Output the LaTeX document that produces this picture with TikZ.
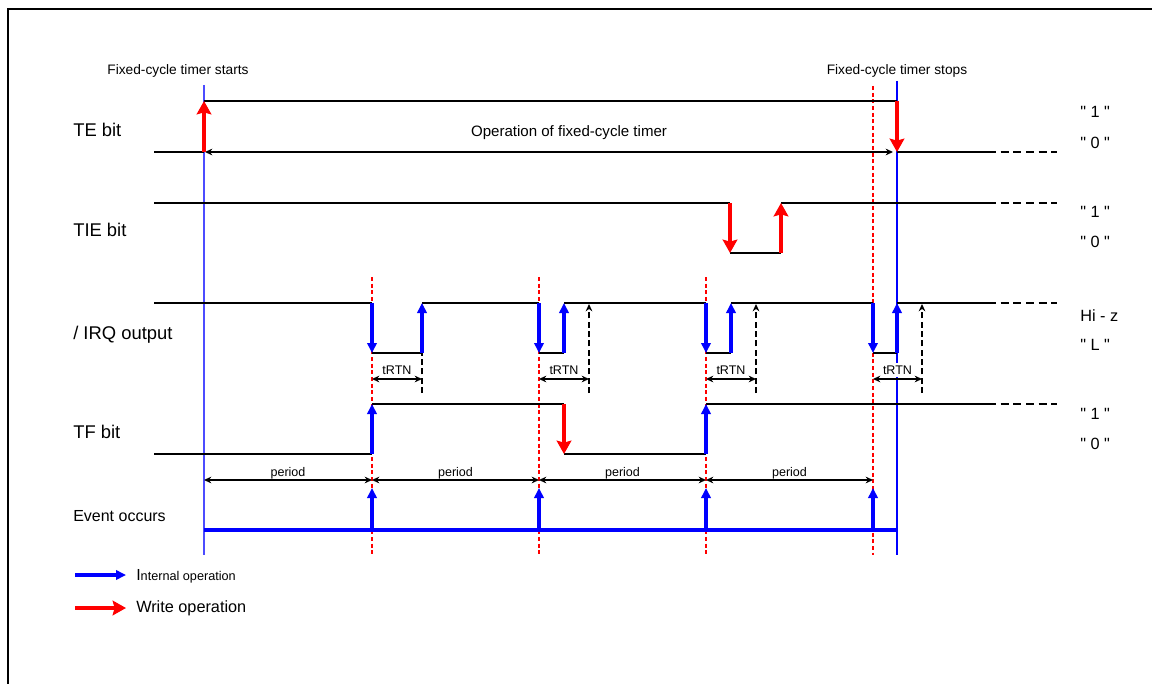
\documentclass[tikz,border=0pt]{standalone}
\usepackage{fontspec}
\setmainfont{Liberation Sans}
\newfontfamily\qf{Liberation Sans}
\usetikzlibrary{arrows.meta}
\newcommand{\qv}[1]{{\qf\char34\ #1\ \char34}}
\begin{document}
\begin{tikzpicture}[x=0.75pt,y=-0.75pt,
  lbl/.style={inner sep=0pt, text height=0.72em, text depth=0pt, anchor=west, font=\fontsize{13.8}{15}\selectfont},
  val/.style={inner sep=0pt, text height=0.72em, text depth=0pt, anchor=west, font=\fontsize{12.2}{14}\selectfont},
  small/.style={inner sep=0pt, text height=0.72em, text depth=0pt, font=\fontsize{10.3}{12}\selectfont},
  tiny/.style={inner sep=0pt, text height=0.72em, text depth=0pt, font=\fontsize{9.4}{11}\selectfont},
  sig/.style={black, line width=1.2pt},
  cont/.style={black, line width=2.2pt, dash pattern=on 6pt off 3.5pt},
  wr/.style={red, line width=3.2pt, -{Stealth[length=10pt,width=11pt,inset=1.5pt]}},
  intop/.style={blue, line width=3pt, -{Triangle[length=7.5pt,width=7pt]}},
  dimarr/.style={black, line width=1.2pt, {Stealth[length=5.5pt,width=5pt]}-{Stealth[length=5.5pt,width=5pt]}},
  rdash/.style={red, line width=1.1pt, dash pattern=on 3pt off 2pt},
  bdash/.style={black, line width=1.5pt, dash pattern=on 4.5pt off 2.5pt, -{Stealth[length=5.5pt,width=5pt]}}
]
\useasboundingbox (0,0) rectangle (1152,684);
% frame
\draw[line width=1.5pt] (8,700) -- (8,9.5) -- (1170,9.5);

% reference verticals
\draw[blue!70!white, line width=0.8pt] (204,85) -- (204,555);
\foreach \x in {372,539,706} \draw[rdash] (\x,277) -- (\x,555);
\draw[rdash] (873,86) -- (873,555);
\draw[blue, line width=0.8pt] (897,81) -- (897,555);

% headers
\node[small] (hs) at (178,70) {Fixed-cycle timer starts};
\node[small] (he) at (897,70) {Fixed-cycle timer stops};

% row labels
\node[lbl] (lte) at (73,132) {TE bit};
\node[lbl] (ltie) at (73,232) {TIE bit};
\node[lbl] (lirq) at (73,335) {/ IRQ output};
\node[lbl] (ltf) at (73,434) {TF bit};
\node[lbl, font=\fontsize{12}{14}\selectfont] (lev) at (73,517) {Event occurs};

% value labels
\node[val] (v1) at (1080,113) {\qv{1}};
\node[val] (v2) at (1080,144) {\qv{0}};
\node[val] (v3) at (1080,213) {\qv{1}};
\node[val] (v4) at (1080,243) {\qv{0}};
\node[val] (v5) at (1080,317) {Hi - z};
\node[val] (v6) at (1080,346) {\qv{L}};
\node[val] (v7) at (1080,415) {\qv{1}};
\node[val] (v8) at (1080,445) {\qv{0}};

% TE bit
\draw[sig] (154,152) -- (204,152);
\draw[sig] (204,101) -- (897,101);
\draw[sig] (897,152) -- (988,152);
\draw[cont] (988,152) -- (1057,152);
\node[small, font=\fontsize{11.3}{13}\selectfont] (op) at (569,132) {Operation of fixed-cycle timer};
\draw[dimarr] (205,152) -- (893,152);
\draw[wr] (204,152) -- (204,101);
\draw[wr] (897,101) -- (897,152);

% TIE bit
\draw[sig] (154,203) -- (730,203);
\draw[sig] (730,253) -- (781,253);
\draw[sig] (781,203) -- (988,203);
\draw[cont] (988,203) -- (1057,203);
\draw[wr] (730,203) -- (730,253);
\draw[wr] (781,253) -- (781,203);

% IRQ output
\draw[sig] (154,303) -- (372,303);
\draw[sig] (372,353) -- (422,353);
\draw[sig] (422,303) -- (539,303);
\draw[sig] (539,353) -- (564,353);
\draw[sig] (564,303) -- (706,303);
\draw[sig] (706,353) -- (731,353);
\draw[sig] (731,303) -- (873,303);
\draw[sig] (873,353) -- (897,353);
\draw[sig] (897,303) -- (988,303);
\draw[cont] (988,303) -- (1057,303);
\foreach \a/\b/\c in {372/422/422,539/564/589,706/731/756,873/897/922}{
  \draw[bdash] (\c,393) -- (\c,304);
  \node[tiny, fill=white, inner sep=1.5pt] at ({(\a+\c)/2},370) {tRTN};
  \draw[dimarr] (\a,379) -- (\c,379);
  \draw[intop] (\a,303) -- (\a,353);
  \draw[intop] (\b,353) -- (\b,303);
}

% TF bit
\draw[sig] (154,454) -- (372,454);
\draw[sig] (372,404) -- (564,404);
\draw[sig] (564,454) -- (706,454);
\draw[sig] (706,404) -- (988,404);
\draw[cont] (988,404) -- (1057,404);
\draw[intop] (372,454) -- (372,404);
\draw[wr] (564,404) -- (564,454);
\draw[intop] (706,454) -- (706,404);

% period
\foreach \a/\b in {204/372,372/539,539/706,706/873}{
  \draw[dimarr] (\a,480) -- (\b,480);
  \node[tiny] at ({(\a+\b)/2},472) {period};
}

% Event occurs
\draw[blue, line width=3pt] (204,530) -- (897,530);
\foreach \x in {372,539,706,873} \draw[intop] (\x,530) -- (\x,488);

% legend
\draw[blue, line width=3pt, -{Triangle[length=7.5pt,width=7pt]}] (75,575) -- (126,575);
\node[inner sep=0pt, text height=0.72em, text depth=0pt, anchor=west] (li) at (136,576) {\fontsize{12}{14}\selectfont I\fontsize{9.5}{11}\selectfont nternal operation};
\draw[red, line width=3.6pt, -{Stealth[length=10pt,width=11pt,inset=1.5pt]}] (75,608) -- (126,608);
\node[inner sep=0pt, text height=0.72em, text depth=0pt, anchor=west, font=\fontsize{12.2}{14}\selectfont] (lw) at (136,608) {Write operation};
\end{tikzpicture}
\end{document}
